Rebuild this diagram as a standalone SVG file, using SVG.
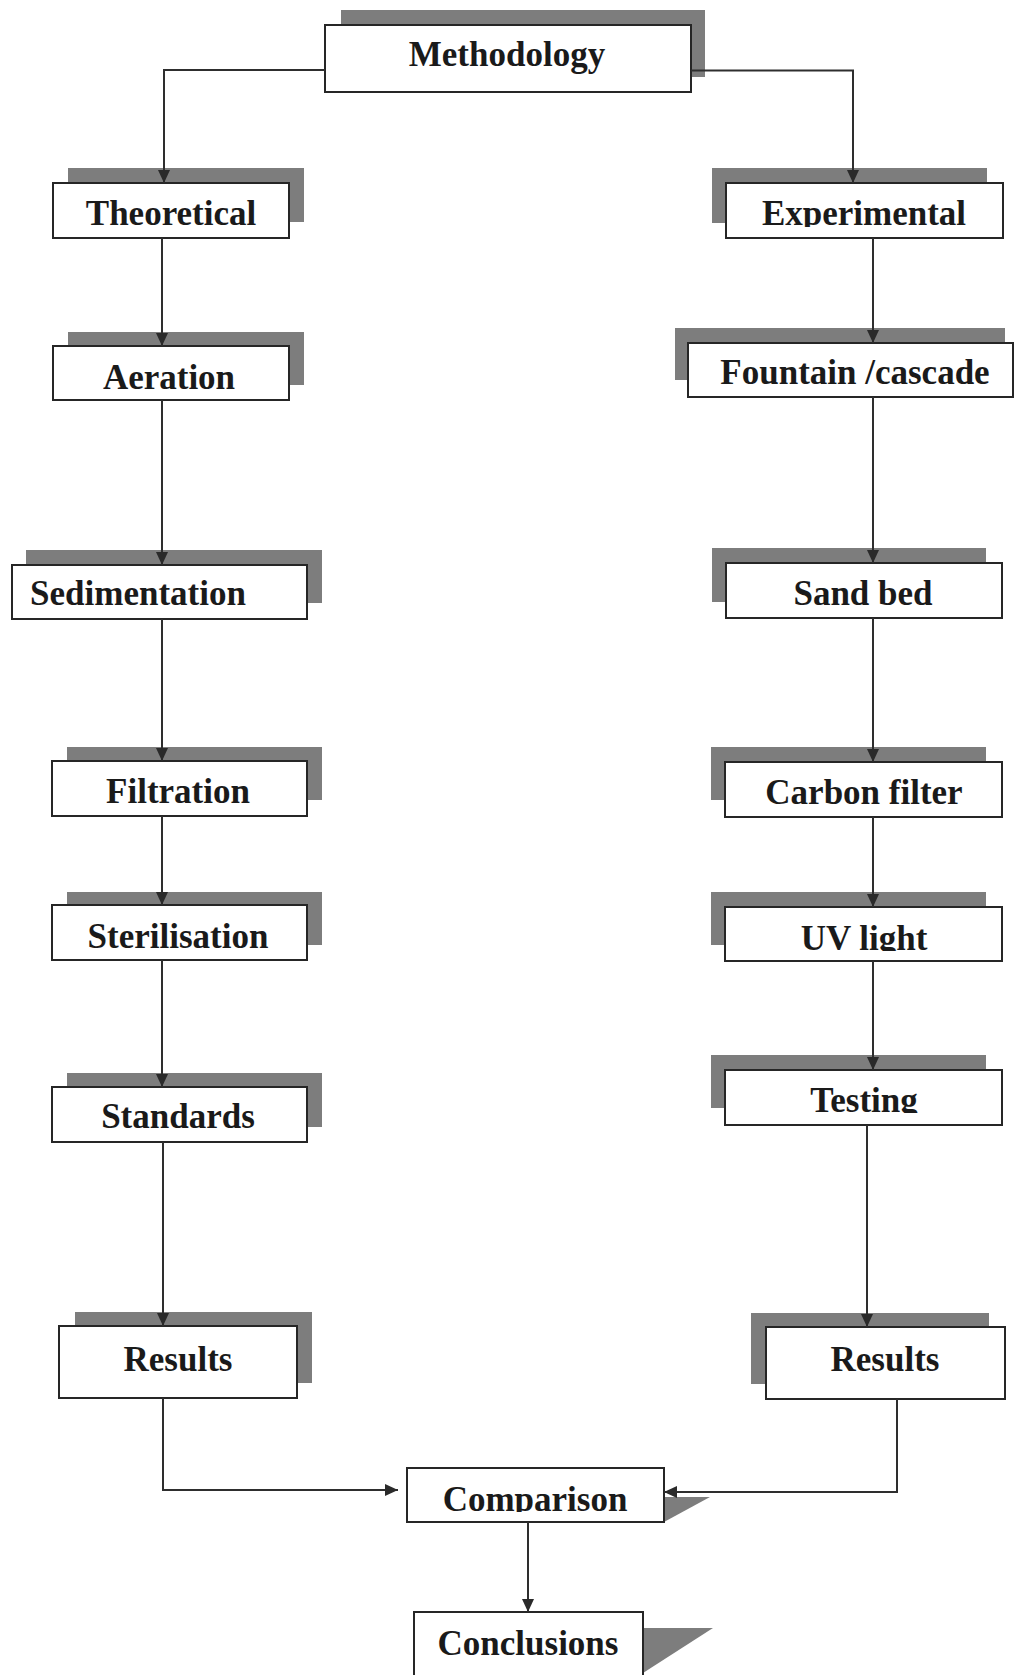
<svg xmlns="http://www.w3.org/2000/svg" width="1014" height="1675" viewBox="0 0 1014 1675">
<style>
.bg{fill:#ffffff}
.sh{fill:#7d7d7d}
.box{fill:#ffffff;stroke:#262626;stroke-width:2}
.lbl{font-family:"Liberation Serif","Times New Roman",serif;font-weight:bold;font-size:35px;fill:#1a1a1a;text-anchor:middle}
.con{fill:none;stroke:#2e2e2e;stroke-width:2}
</style>
<defs>
<marker id="arr" markerUnits="userSpaceOnUse" markerWidth="13" markerHeight="12" refX="13" refY="6" orient="auto">
<path d="M0,0 L13,6 L0,12 z" fill="#2a2a2a"/>
</marker>
<clipPath id="cExp"><rect x="726" y="183" width="277" height="44"/></clipPath>
<clipPath id="cUV"><rect x="725" y="907" width="277" height="44"/></clipPath>
<clipPath id="cTest"><rect x="725" y="1070" width="277" height="43"/></clipPath>
<clipPath id="cComp"><rect x="407" y="1468" width="257" height="44"/></clipPath>
</defs>
<rect class="bg" x="0" y="0" width="1014" height="1675"/>

<g id="methodology">
<rect class="sh" x="341" y="10" width="364" height="67"/>
<rect class="box" x="325" y="25" width="366" height="67"/>
<text class="lbl" x="507" y="66">Methodology</text>
</g>

<g id="theoretical">
<rect class="sh" x="68" y="168" width="236" height="54"/>
<rect class="box" x="53" y="183" width="236" height="55"/>
<text class="lbl" x="171" y="225">Theoretical</text>
</g>

<g id="aeration">
<rect class="sh" x="68" y="332" width="236" height="53"/>
<rect class="box" x="53" y="346" width="236" height="54"/>
<text class="lbl" x="169" y="389">Aeration</text>
</g>

<g id="sedimentation">
<rect class="sh" x="26" y="550" width="296" height="53"/>
<rect class="box" x="12" y="565" width="295" height="54"/>
<text class="lbl" x="138" y="605">Sedimentation</text>
</g>

<g id="filtration">
<rect class="sh" x="67" y="747" width="255" height="53"/>
<rect class="box" x="52" y="761" width="255" height="55"/>
<text class="lbl" x="178" y="803">Filtration</text>
</g>

<g id="sterilisation">
<rect class="sh" x="67" y="892" width="255" height="53"/>
<rect class="box" x="52" y="905" width="255" height="55"/>
<text class="lbl" x="178" y="948">Sterilisation</text>
</g>

<g id="standards">
<rect class="sh" x="67" y="1073" width="255" height="54"/>
<rect class="box" x="52" y="1087" width="255" height="55"/>
<text class="lbl" x="178" y="1128">Standards</text>
</g>

<g id="results-theoretical">
<rect class="sh" x="75" y="1312" width="237" height="71"/>
<rect class="box" x="59" y="1326" width="238" height="72"/>
<text class="lbl" x="178" y="1371">Results</text>
</g>

<g id="experimental">
<rect class="sh" x="712" y="168" width="275" height="55"/>
<rect class="box" x="726" y="183" width="277" height="55"/>
<text class="lbl" x="864" y="225" clip-path="url(#cExp)">Experimental</text>
</g>

<g id="fountain-cascade">
<rect class="sh" x="675" y="328" width="330" height="52"/>
<rect class="box" x="688" y="343" width="325" height="54"/>
<text class="lbl" x="855" y="384">Fountain /cascade</text>
</g>

<g id="sand-bed">
<rect class="sh" x="712" y="548" width="274" height="54"/>
<rect class="box" x="726" y="563" width="276" height="55"/>
<text class="lbl" x="863" y="605">Sand bed</text>
</g>

<g id="carbon-filter">
<rect class="sh" x="711" y="747" width="275" height="53"/>
<rect class="box" x="725" y="762" width="277" height="55"/>
<text class="lbl" x="864" y="804">Carbon filter</text>
</g>

<g id="uv-light">
<rect class="sh" x="711" y="892" width="275" height="53"/>
<rect class="box" x="725" y="907" width="277" height="54"/>
<text class="lbl" x="864" y="950" clip-path="url(#cUV)">UV light</text>
</g>

<g id="testing">
<rect class="sh" x="711" y="1055" width="275" height="53"/>
<rect class="box" x="725" y="1070" width="277" height="55"/>
<text class="lbl" x="864" y="1112" clip-path="url(#cTest)">Testing</text>
</g>

<g id="results-experimental">
<rect class="sh" x="751" y="1313" width="238" height="71"/>
<rect class="box" x="766" y="1327" width="239" height="72"/>
<text class="lbl" x="885" y="1371">Results</text>
</g>

<g id="comparison">
<polygon class="sh" points="664,1497 710,1497 664,1522"/>
<rect class="box" x="407" y="1468" width="257" height="54"/>
<text class="lbl" x="535" y="1511" clip-path="url(#cComp)">Comparison</text>
</g>

<g id="conclusions">
<polygon class="sh" points="643,1628 713,1628 643,1673"/>
<rect class="box" x="414" y="1612" width="229" height="70"/>
<text class="lbl" x="528" y="1655">Conclusions</text>
</g>

<g id="connectors">
<path class="con" d="M325,70 H164 V183" marker-end="url(#arr)"/>
<path class="con" d="M691,70.5 H853 V183" marker-end="url(#arr)"/>
<path class="con" d="M162,238 V346" marker-end="url(#arr)"/>
<path class="con" d="M162,400 V565" marker-end="url(#arr)"/>
<path class="con" d="M162,619 V761" marker-end="url(#arr)"/>
<path class="con" d="M162,816 V905" marker-end="url(#arr)"/>
<path class="con" d="M162,960 V1087" marker-end="url(#arr)"/>
<path class="con" d="M163,1142 V1326" marker-end="url(#arr)"/>
<path class="con" d="M873,238 V343" marker-end="url(#arr)"/>
<path class="con" d="M873,397 V563" marker-end="url(#arr)"/>
<path class="con" d="M873,618 V762" marker-end="url(#arr)"/>
<path class="con" d="M873,817 V907" marker-end="url(#arr)"/>
<path class="con" d="M873,961 V1070" marker-end="url(#arr)"/>
<path class="con" d="M867,1125 V1327" marker-end="url(#arr)"/>
<path class="con" d="M163,1398 V1490 H398" marker-end="url(#arr)"/>
<path class="con" d="M897,1399 V1492 H664" marker-end="url(#arr)"/>
<path class="con" d="M528,1522 V1612" marker-end="url(#arr)"/>
</g>
</svg>
